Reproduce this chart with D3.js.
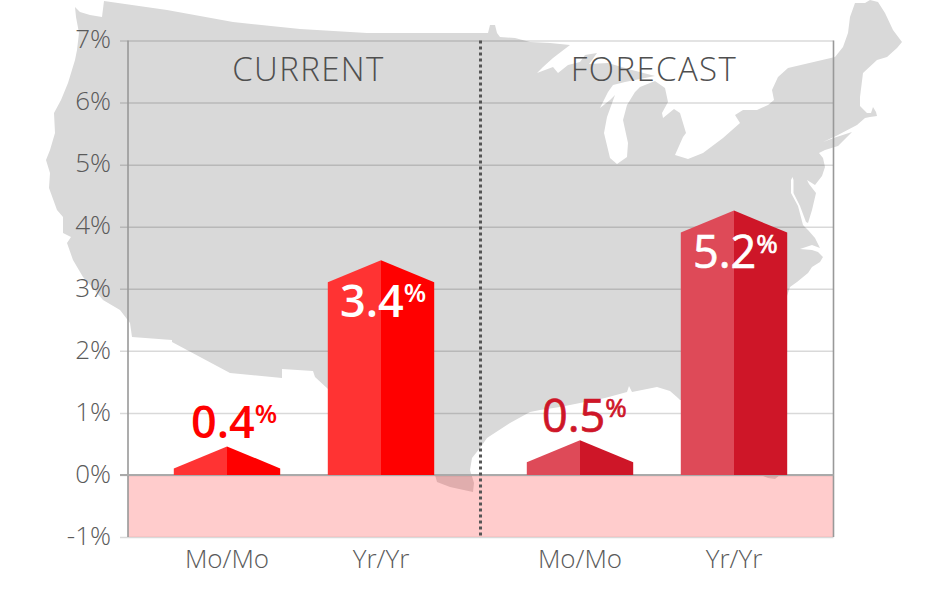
<!DOCTYPE html>
<html>
<head>
<meta charset="utf-8">
<script src="https://cdn.jsdelivr.net/npm/d3@7"></script>
<style>
html,body{margin:0;padding:0;background:#fff;overflow:hidden}
text{font-family:"Open Sans",sans-serif}
</style>
</head>
<body>
<svg id="chart" width="947" height="592"></svg>
<script>
const panels = ["CURRENT", "FORECAST"];
const categories = ["Mo/Mo", "Yr/Yr"];
const tickValues = [-1, 0, 1, 2, 3, 4, 5, 6, 7];
const panelOf = ["CURRENT", "CURRENT", "FORECAST", "FORECAST"];
const categoryOf = ["Mo/Mo", "Yr/Yr", "Mo/Mo", "Yr/Yr"];
const labelValues = ["0.4", "3.4", "0.5", "5.2"];
const barValues = [0.46, 3.46, 0.56, 4.26];
const roofRise = 0.355;

// Decorative background silhouette of the contiguous US, traced in page pixels
const usOutline = [[104,1],[167,10],[233,22],[300,29],[367,33],[480,33],[488,33],[490,25],[495,25],[497,33],[500,37],[515,38],[530,42],[550,43],[570,45],[553,58],[543,67],[537,73],[553,67],[558,73],[568,65],[580,62],[585,55],[597,53],[592,60],[589,64],[608,63],[632,70],[655,76],[640,79],[625,82],[613,85],[608,92],[600,108],[610,100],[615,95],[607,117],[604,133],[610,158],[617,164],[627,157],[628,143],[623,120],[627,105],[635,92],[640,87],[655,81],[665,88],[668,102],[662,113],[663,118],[674,109],[680,113],[686,133],[683,137],[675,155],[688,159],[703,153],[723,138],[740,123],[735,115],[743,110],[757,110],[768,105],[774,100],[772,90],[778,77],[788,68],[835,57],[843,47],[848,33],[850,17],[855,3],[865,3],[870,0],[878,2],[885,13],[893,30],[902,42],[897,48],[887,57],[877,60],[863,73],[860,97],[860,106],[867,113],[871,113],[873,107],[876,112],[877,116],[870,117],[865,118],[857,125],[836,136],[823,142],[835,137.5],[852,132],[838,146],[825,150],[819,153],[823,158],[825,167],[822,176],[815,185],[807,180],[809,184],[816,193],[812,210],[808,223],[806,222],[800,206],[793.5,193],[793.5,180],[792.5,177],[791,180],[791,193],[798,206],[803,225],[808,230],[815,238],[820,248],[812,245],[800,249],[812,250],[818,252],[823,257],[820,262],[812,267],[808,273],[797,282],[790,287],[787,296],[785,440],[780,475],[775,479],[768,478],[763,476],[735,450],[725,415],[700,400],[680,400],[678,398],[670,391],[657,387],[632,392],[629,386],[627,392],[605,398],[560,407],[540,410],[530,412],[510,423],[490,436],[487,438],[480,448],[472,458],[470,470],[474,483],[473,492],[450,487],[437,482],[435,475],[410,450],[385,420],[350,395],[328,389],[315,377],[313,371],[282,369],[282,378],[230,373],[172,342],[172,340],[132,337],[130,323],[120,310],[103,300],[92,287],[83,277],[73,260],[67,243],[71,237],[63,233],[63,217],[57,210],[49,188],[50,173],[46,160],[50,150],[55,133],[54,113],[61,100],[68,83],[75,60],[77,50],[79,33],[76,17],[75,7],[80,12],[90,15],[102,17]];

const colors = {
  CURRENT: {light: "#ff3333", dark: "#ff0000", label: "#ff0000"},
  FORECAST: {light: "#de4a58", dark: "#ce1628", label: "#ce1628"}
};

const svg = d3.select("#chart");
const y = d3.scaleLinear().domain([-1, 7]).range([537, 40.5]);
const xPanel = d3.scalePoint().domain(panels).range([227, 580]);
const xCat = d3.scalePoint().domain(categories).range([0, 154]);
const barW = 106.4;
const left = 128, right = 833.5;
const labelOffsets = [-36, -41, -38, -41];
const titleCenters = {CURRENT: 308.5, FORECAST: 654};

// map
svg.append("path").attr("d", d3.line()(usOutline)).attr("fill", "#d9d9d9");

// negative band
svg.append("rect").attr("x", left).attr("width", right - left)
  .attr("y", y(0)).attr("height", y(-1) - y(0))
  .attr("fill", "rgba(255,0,0,0.2)");

// y axis with full-width grid
const axis = d3.axisLeft(y).tickValues(tickValues).tickFormat(d => d + "%")
  .tickSize(right - 120).tickPadding(9);
const gAxis = svg.append("g").attr("transform", `translate(${right},0)`).call(axis);
gAxis.select(".domain").remove();
gAxis.selectAll(".tick line")
  .attr("stroke", "rgba(0,0,0,0.15)").attr("stroke-width", 1.5);
gAxis.selectAll(".tick text")
  .attr("fill", "#5a5a5a").attr("font-size", 26).attr("font-weight", 300)
  .attr("font-family", '"Open Sans",sans-serif')
  .attr("dy", "0.28em");

// frame lines
svg.append("line").attr("x1", left).attr("x2", left).attr("y1", y(7)).attr("y2", y(-1))
  .attr("stroke", "#999").attr("stroke-width", 1.6);
svg.append("line").attr("x1", right).attr("x2", right).attr("y1", y(7)).attr("y2", y(-1))
  .attr("stroke", "#999").attr("stroke-width", 1.6);
svg.append("line").attr("x1", 120).attr("x2", right).attr("y1", y(0)).attr("y2", y(0))
  .attr("stroke", "#aaa").attr("stroke-width", 2);

// divider
svg.append("line").attr("x1", 480.5).attr("x2", 480.5).attr("y1", y(7)).attr("y2", y(-1))
  .attr("stroke", "#555").attr("stroke-width", 3).attr("stroke-dasharray", "3,3");

// panel titles
svg.selectAll(".panel").data(panels).join("text")
  .attr("class", "panel")
  .attr("x", d => titleCenters[d])
  .attr("y", 81).attr("text-anchor", "middle")
  .attr("font-size", 33).attr("font-weight", 300).attr("letter-spacing", 1.4)
  .attr("fill", "#4f4f4f").text(d => d);

// bars
const rows = barValues.map((v, i) => ({
  value: v, panel: panelOf[i], cat: categoryOf[i], label: labelValues[i], offset: labelOffsets[i],
  cx: xPanel(panelOf[i]) + xCat(categoryOf[i])
}));
const line = d3.line();
const g = svg.append("g");
g.selectAll(".left").data(rows).join("path").attr("class", "left")
  .attr("fill", d => colors[d.panel].light)
  .attr("d", d => line([[d.cx - barW/2, y(0)], [d.cx - barW/2, y(d.value - roofRise)], [d.cx, y(d.value)], [d.cx, y(0)]]) + "Z");
g.selectAll(".right").data(rows).join("path").attr("class", "right")
  .attr("fill", d => colors[d.panel].dark)
  .attr("d", d => line([[d.cx, y(0)], [d.cx, y(d.value)], [d.cx + barW/2, y(d.value - roofRise)], [d.cx + barW/2, y(0)]]) + "Z");

// value labels
const labelFill = d => d.value > 1 ? "#fff" : colors[d.panel].label;
const vl = svg.selectAll(".val").data(rows).join("text").attr("class", "val")
  .attr("x", d => d.cx + d.offset)
  .attr("y", d => d.value > 1 ? y(d.value) + 57 : y(d.value) - 8)
  .attr("font-size", 45)
  .attr("font-weight", d => d.panel === "CURRENT" ? 600 : 400)
  .attr("fill", labelFill)
  .attr("stroke", d => d.panel === "CURRENT" ? "none" : labelFill(d))
  .attr("stroke-width", 0.7);
vl.append("tspan").text(d => d.label);
vl.append("tspan").attr("dy", -15).attr("font-size", 26).text("%");

// category labels
svg.selectAll(".cat").data(rows).join("text").attr("class", "cat")
  .attr("x", d => d.cx).attr("y", 568).attr("text-anchor", "middle")
  .attr("font-size", 26).attr("font-weight", 300).attr("fill", "#5a5a5a")
  .text(d => d.cat);
</script>
</body>
</html>
